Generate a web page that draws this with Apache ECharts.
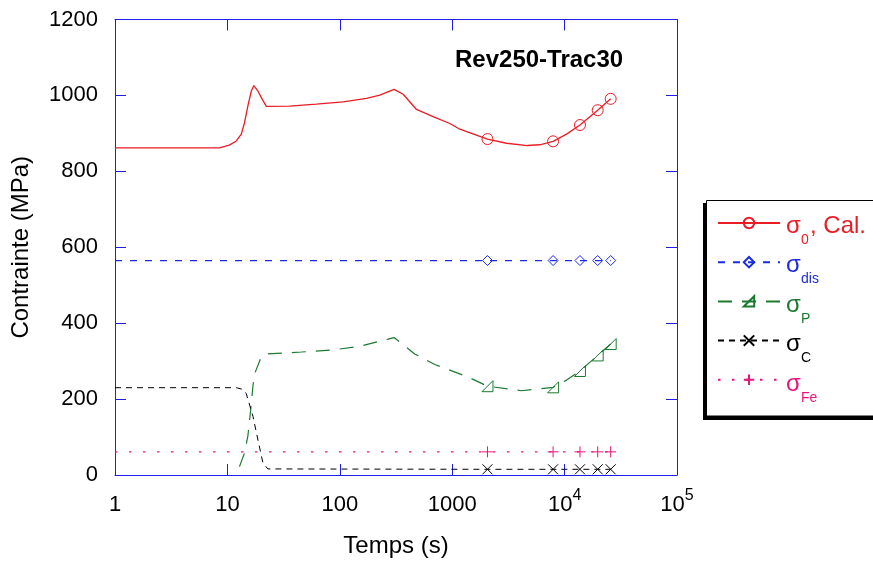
<!DOCTYPE html>
<html>
<head>
<meta charset="utf-8">
<script src="https://cdn.jsdelivr.net/npm/echarts@6/dist/echarts.min.js"></script>
<style>
  html, body { margin: 0; padding: 0; background: #fff; }
  #chart { width: 873px; height: 563px; }
</style>
</head>
<body>
<div id="chart"></div>
<script>
// ---------- data ----------
const markerTimes = [2060, 7900, 13700, 19700, 25700];

const sigma0Times  = [1, 3, 8.5, 10.4, 12, 13.3, 14.2, 15.2, 16.3, 17.2, 18.7, 20.5, 22.2, 35.8, 61.7, 107, 173, 227, 304, 366, 481, 676, 952, 1169, 2060, 3047, 4645, 6026, 7900, 10410, 13700, 19700, 25700];
const sigma0Values = [862, 862, 862, 869, 880, 898, 928, 972, 1011, 1026, 1011, 989, 971, 972, 977, 983, 992, 1001, 1016, 1003, 963, 944, 926, 911, 885, 874, 868, 870, 879, 898, 922, 961, 991];

const sigmaDisTimes  = [1, 2060, 7900, 13700, 19700, 25700];
const sigmaDisValues = [565, 565, 565, 565, 565, 565];

const sigmaPTimes  = [12.8, 14.2, 15.2, 16.1, 16.9, 17.7, 20, 22.2, 45.5, 84, 150, 269, 304, 354, 464, 700, 1387, 2060, 4140, 7900, 10410, 13700, 19700, 25700];
const sigmaPValues = [22, 58, 102, 171, 237, 271, 311, 319, 324, 329, 339, 358, 362, 347, 319, 291, 258, 234, 222, 231, 250, 274, 315, 345];

const sigmaCTimes  = [1, 12, 13.5, 14.7, 16.9, 18.8, 20.7, 22.9, 2060, 7900, 13700, 19700, 25700];
const sigmaCValues = [230, 230, 226, 215, 154, 89, 32, 16, 15, 15, 15, 15, 15];

const sigmaFeTimes  = [1, 2060, 7900, 13700, 19700, 25700];
const sigmaFeValues = [61, 61, 61, 61, 61, 61];

const xTickLabels = ['1', '10', '100', '1000', '10^4', '10^5'];
const yTicks = [0, 200, 400, 600, 800, 1000, 1200];

const seriesNames = ['σ0, Cal.', 'σdis', 'σP', 'σC', 'σFe'];
const legendMain = ['σ', 'σ', 'σ', 'σ', 'σ'];
const legendSub  = ['0', 'dis', 'P', 'C', 'Fe'];
const legendTail = [', Cal.', '', '', '', ''];

// ---------- styles ----------
const RED = '#ea1c24', BLUE = '#1a2be0', GREEN = '#1c7a30', BLACK = '#000000', PINK = '#e8157d';
const seriesColors = [RED, BLUE, GREEN, BLACK, PINK];
const AXIS_BLUE = '#1e1ee6';
const FONT = '"Liberation Sans", Arial, Helvetica, sans-serif';

function pts(times, vals) {
  return times.map((t, i) => {
    const item = { value: [t, vals[i]] };
    if (markerTimes.indexOf(t) < 0) item.symbol = 'none';
    return item;
  });
}

// legend layout
const LEG_LEFT = 717, LEG_FIRST_CENTER = 223, LEG_STEP = 39.5, LEG_ITEM_H = 13;

const legendGraphics = [];
seriesNames.forEach((n, i) => {
  const cy = LEG_FIRST_CENTER + i * LEG_STEP;
  const col = seriesColors[i];
  legendGraphics.push({
    type: 'text', z: 20, x: 786, y: cy + 3,
    style: { text: legendMain[i], fill: col, font: '24px ' + FONT, textAlign: 'left', textVerticalAlign: 'middle' }
  });
  legendGraphics.push({
    type: 'text', z: 20, x: 801, y: cy + 17,
    style: { text: legendSub[i], fill: col, font: '14px ' + FONT, textAlign: 'left', textVerticalAlign: 'middle' }
  });
  if (legendTail[i]) {
    legendGraphics.push({
      type: 'text', z: 20, x: 810, y: cy + 3,
      style: { text: legendTail[i], fill: col, font: '24px ' + FONT, textAlign: 'left', textVerticalAlign: 'middle' }
    });
  }
});

const chart = echarts.init(document.getElementById('chart'), null, { renderer: 'canvas' });

const option = {
  animation: false,
  backgroundColor: '#ffffff',
  textStyle: { fontFamily: FONT },
  title: {
    text: 'Rev250-Trac30',
    left: 455, top: 48, padding: 0,
    textStyle: { fontSize: 24, fontWeight: 'bold', color: '#000', fontFamily: FONT }
  },
  grid: { left: 115, right: 196, top: 19.5, bottom: 84, containLabel: false, show: false },
  graphic: [
    { type: 'rect', z: 0, shape: { x: 703, y: 203, width: 200, height: 217 }, style: { fill: '#000' } },
    { type: 'rect', z: 1, shape: { x: 706.5, y: 200.5, width: 200, height: 215.5 }, style: { fill: '#fff', stroke: '#000', lineWidth: 1 } }
  ].concat(legendGraphics),
  legend: {
    z: 10,
    orient: 'vertical',
    left: LEG_LEFT, top: LEG_FIRST_CENTER - LEG_ITEM_H / 2,
    padding: 0,
    itemWidth: 62, itemHeight: LEG_ITEM_H, itemGap: LEG_STEP - LEG_ITEM_H,
    selectedMode: false,
    data: seriesNames,
    formatter: () => '',
    textStyle: { fontSize: 12 }
  },
  xAxis: [
    {
      type: 'log', logBase: 10, min: 1, max: 100000,
      position: 'bottom',
      name: 'Temps (s)', nameLocation: 'middle', nameGap: 59,
      nameTextStyle: { fontSize: 24, color: '#000', fontFamily: FONT },
      axisLine: { show: true, onZero: false, lineStyle: { color: AXIS_BLUE, width: 1 } },
      axisTick: { show: true, inside: true, length: 11, lineStyle: { color: AXIS_BLUE, width: 1 } },
      splitLine: { show: false },
      minorTick: { show: false },
      axisLabel: {
        margin: 13,
        color: '#000',
        formatter: function (v) {
          const e = Math.round(Math.log10(v));
          const t = xTickLabels[e] || String(v);
          const parts = t.split('^');
          return parts.length > 1 ? '{m|' + parts[0] + '}{s|' + parts[1] + '}' : '{m|' + parts[0] + '}';
        },
        rich: {
          m: { fontSize: 22, lineHeight: 22, padding: [6, 0, 0, 0], verticalAlign: 'top', color: '#000', fontFamily: FONT },
          s: { fontSize: 16, lineHeight: 16, verticalAlign: 'top', color: '#000', fontFamily: FONT }
        }
      }
    },
    {
      type: 'log', logBase: 10, min: 1, max: 100000,
      position: 'top',
      axisLine: { show: true, onZero: false, lineStyle: { color: AXIS_BLUE, width: 1 } },
      axisTick: { show: true, inside: true, length: 11, lineStyle: { color: AXIS_BLUE, width: 1 } },
      axisLabel: { show: false },
      splitLine: { show: false }
    }
  ],
  yAxis: [
    {
      type: 'value', min: 0, max: 1200, interval: 200,
      position: 'left',
      name: 'Contrainte (MPa)', nameLocation: 'middle', nameGap: 82,
      nameTextStyle: { fontSize: 24, color: '#000', fontFamily: FONT },
      axisLine: { show: true, onZero: false, lineStyle: { color: AXIS_BLUE, width: 1 } },
      axisTick: { show: true, inside: true, length: 11, lineStyle: { color: AXIS_BLUE, width: 1 } },
      splitLine: { show: false },
      axisLabel: {
        margin: 17, fontSize: 22, color: '#000', fontFamily: FONT,
        formatter: v => (yTicks.indexOf(v) >= 0 ? String(v) : '')
      }
    },
    {
      type: 'value', min: 0, max: 1200, interval: 200,
      position: 'right',
      axisLine: { show: true, onZero: false, lineStyle: { color: AXIS_BLUE, width: 1 } },
      axisTick: { show: true, inside: true, length: 11, lineStyle: { color: AXIS_BLUE, width: 1 } },
      axisLabel: { show: false },
      splitLine: { show: false }
    }
  ],
  series: [
    {
      name: seriesNames[0], type: 'line', xAxisIndex: 0, yAxisIndex: 0,
      data: pts(sigma0Times, sigma0Values),
      symbol: 'circle', symbolSize: 11, showSymbol: true,
      lineStyle: { color: RED, width: 1.3, type: 'solid' },
      itemStyle: { color: 'rgba(0,0,0,0)', borderColor: RED, borderWidth: 1 },
      emphasis: { disabled: true }, z: 5
    },
    {
      name: seriesNames[1], type: 'line', xAxisIndex: 0, yAxisIndex: 0,
      data: pts(sigmaDisTimes, sigmaDisValues),
      symbol: 'diamond', symbolSize: [10, 10], showSymbol: true,
      lineStyle: { color: BLUE, width: 1.2, type: [7, 8] },
      itemStyle: { color: 'rgba(0,0,0,0)', borderColor: BLUE, borderWidth: 1 },
      emphasis: { disabled: true }, z: 4
    },
    {
      name: seriesNames[2], type: 'line', xAxisIndex: 0, yAxisIndex: 0,
      data: pts(sigmaPTimes, sigmaPValues),
      symbol: 'path://M0,10L10,10L10,0Z', symbolSize: 11, showSymbol: true,
      lineStyle: { color: GREEN, width: 1.2, type: [14, 10] },
      itemStyle: { color: 'rgba(0,0,0,0)', borderColor: GREEN, borderWidth: 1 },
      emphasis: { disabled: true }, z: 4
    },
    {
      name: seriesNames[3], type: 'line', xAxisIndex: 0, yAxisIndex: 0,
      data: pts(sigmaCTimes, sigmaCValues),
      symbol: 'path://M0,0L10,10M10,0L0,10', symbolSize: 10, showSymbol: true,
      lineStyle: { color: BLACK, width: 1, type: [6, 5] },
      itemStyle: { color: 'rgba(0,0,0,0)', borderColor: BLACK, borderWidth: 1 },
      emphasis: { disabled: true }, z: 4
    },
    {
      name: seriesNames[4], type: 'line', xAxisIndex: 0, yAxisIndex: 0,
      data: pts(sigmaFeTimes, sigmaFeValues),
      symbol: 'path://M5,0L5,10M0,5L10,5', symbolSize: 11, showSymbol: true,
      lineStyle: { color: PINK, width: 1.2, type: [2.5, 11.5] },
      itemStyle: { color: 'rgba(0,0,0,0)', borderColor: PINK, borderWidth: 1 },
      emphasis: { disabled: true }, z: 4
    }
  ]
};

chart.setOption(option);
</script>
</body>
</html>
